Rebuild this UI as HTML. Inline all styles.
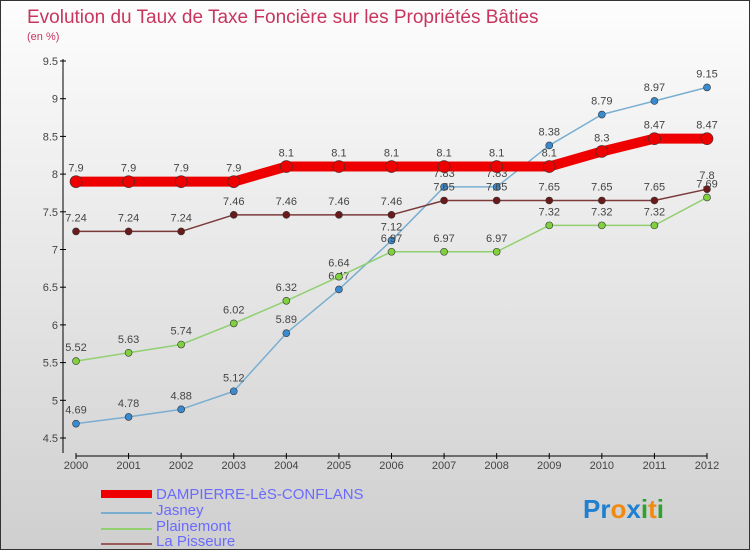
<!DOCTYPE html>
<html><head><meta charset="utf-8"><style>
body{margin:0}
#c{width:748px;height:548px;border:1px solid #333;background:linear-gradient(#fdfdfd,#cfcfcf);position:relative;font-family:"Liberation Sans",sans-serif;overflow:hidden}
</style></head><body>
<div id="c">
<svg width="748" height="548" id="svg">
<text x="26" y="22" font-size="19" fill="#c8355f">Evolution du Taux de Taxe Foncière sur les Propriétés Bâties</text>
<text x="26" y="39" font-size="11" fill="#c8355f">(en %)</text>
<g id="axes"></g><g id="series"></g>
<g>
<rect x="100" y="489" width="51" height="8" fill="#e00"/>
<text x="155" y="498" font-size="15" fill="#6a6aff">DAMPIERRE-LèS-CONFLANS</text>
<line x1="100" y1="512" x2="151" y2="512" stroke="#7aaed0" stroke-width="2"/>
<text x="155" y="514" font-size="15" fill="#6a6aff">Jasney</text>
<line x1="100" y1="528" x2="151" y2="528" stroke="#90d070" stroke-width="2"/>
<text x="155" y="530" font-size="15" fill="#6a6aff">Plainemont</text>
<line x1="100" y1="543" x2="151" y2="543" stroke="#9a5a5a" stroke-width="2"/>
<text x="155" y="545" font-size="15" fill="#6a6aff">La Pisseure</text>
</g>
<text x="582" y="517" font-size="26" font-weight="bold"><tspan fill="#1f7fd0">Pr</tspan><tspan fill="#f08a10">o</tspan><tspan fill="#1f7fd0">x</tspan><tspan fill="#30a030">i</tspan><tspan fill="#f08a10">t</tspan><tspan fill="#30a030">i</tspan></text>
</svg></div>
<script>
const years=[2000,2001,2002,2003,2004,2005,2006,2007,2008,2009,2010,2011,2012];
const yTicks=[4.5,5,5.5,6,6.5,7,7.5,8,8.5,9,9.5];
const dampierre=[7.9,7.9,7.9,7.9,8.1,8.1,8.1,8.1,8.1,8.1,8.3,8.47,8.47];
const jasney=[4.69,4.78,4.88,5.12,5.89,6.47,7.12,7.83,7.83,8.38,8.79,8.97,9.15];
const plainemont=[5.52,5.63,5.74,6.02,6.32,6.64,6.97,6.97,6.97,7.32,7.32,7.32,7.69];
const pisseure=[7.24,7.24,7.24,7.46,7.46,7.46,7.46,7.65,7.65,7.65,7.65,7.65,7.8];
const NS="http://www.w3.org/2000/svg";
const xS=i=>75+i*(706-75)/12;
const yS=v=>437-(v-4.5)*(437-60)/5;
function mk(t,a,p){const e=document.createElementNS(NS,t);for(const k in a)e.setAttribute(k,a[k]);p.appendChild(e);return e;}
const ax=document.getElementById('axes');
const yl=mk('line',{x1:62,y1:58,x2:62,y2:452,stroke:'#000'},ax);


const xl=mk('line',{x1:75,y1:455,x2:706,y2:455,stroke:'#000'},ax);


yTicks.forEach(v=>{
  mk('line',{x1:59,x2:65,y1:yS(v),y2:yS(v),stroke:'#000'},ax);
  const t=mk('text',{x:57,y:yS(v)+4,'font-size':11,fill:'#444','text-anchor':'end'},ax);
  t.textContent=v;
  
  
});
years.forEach((y,i)=>{
  mk('line',{x1:xS(i),x2:xS(i),y1:452,y2:458,stroke:'#000'},ax);
  const t=mk('text',{x:xS(i),y:464+4,'font-size':11,fill:'#444','text-anchor':'middle'},ax);
  t.textContent=y;
  
  
});
const sg=document.getElementById('series');
function draw(vals,color,dot,w,r,name){
  const g=mk('g',{},sg);
  
  
  const p=mk('polyline',{points:vals.map((v,i)=>xS(i)+','+yS(v)).join(' '),fill:'none',stroke:color,'stroke-width':w,'stroke-linejoin':'round'},g);
  
  
  vals.forEach((v,i)=>{
    const c=mk('circle',{cx:xS(i),cy:yS(v),r:r,fill:dot,stroke:'#333','stroke-width':0.6},g);
    
    
    const t=mk('text',{x:xS(i),y:yS(v)-10,'font-size':11,fill:'#444','text-anchor':'middle'},g);
    t.textContent=v;
    
    
  });
}
draw(jasney,'#7aaed0','#3a8ad0',1.5,3.5,'jasney');
draw(plainemont,'#90d070','#80d040',1.5,3.5,'plainemont');
draw(pisseure,'#7a3a3a','#6a1a1a',1.5,3.5,'la-pisseure');
draw(dampierre,'#ee0000','#ee0000',10,6,'dampierre');
</script>
</body></html>
